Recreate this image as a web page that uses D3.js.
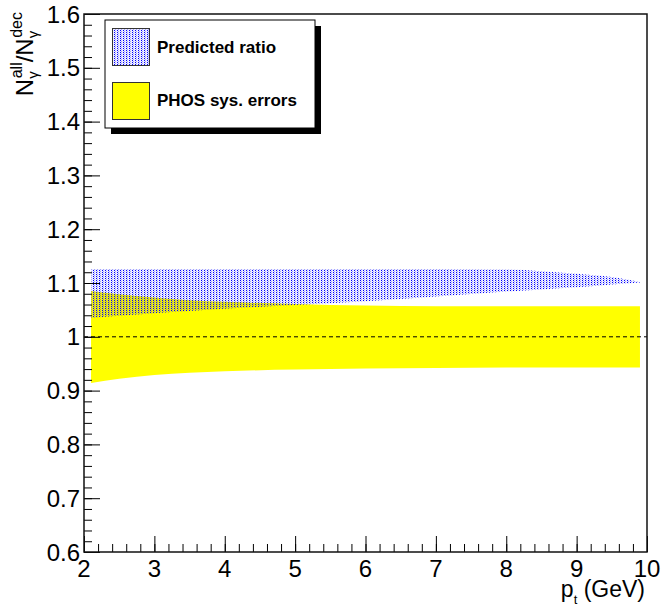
<!DOCTYPE html>
<html><head><meta charset="utf-8">
<script src="https://cdn.jsdelivr.net/npm/d3@7"></script>
<style>html,body{margin:0;padding:0;background:#fff;}svg{display:block;font-family:"Liberation Sans",Arial,sans-serif;}</style>
</head><body>
<script>
// Data
const pt = [2.1, 2.5, 3, 3.5, 4, 5, 6, 7, 8, 8.5, 9, 9.5, 9.9];
const predUpper = [1.126,1.126,1.126,1.126,1.126,1.126,1.126,1.126,1.125,1.122,1.117,1.111,1.102];
const predLower = [1.035,1.039,1.044,1.048,1.052,1.059,1.066,1.075,1.084,1.088,1.092,1.097,1.101];
const sysUpper  = [1.085,1.079,1.073,1.068,1.065,1.061,1.058,1.057,1.057,1.057,1.057,1.057,1.057];
const sysLower  = [0.914,0.922,0.929,0.933,0.936,0.939,0.941,0.942,0.943,0.943,0.943,0.943,0.943];
const xTicks = [2,3,4,5,6,7,8,9,10];
const yTicks = [0.6,0.7,0.8,0.9,1,1.1,1.2,1.3,1.4,1.5,1.6];
const yTickLabels = ["0.6","0.7","0.8","0.9","1","1.1","1.2","1.3","1.4","1.5","1.6"];
const legendLabels = ["Predicted ratio","PHOS sys. errors"];

const W = 662, H = 610;
const L = 84, R = 647, T = 14, B = 552;
const svg = d3.select("body").append("svg").attr("width", W).attr("height", H);

const defs = svg.append("defs");
const pat = defs.append("pattern").attr("id","dots").attr("patternUnits","userSpaceOnUse")
  .attr("width",3).attr("height",2);
pat.append("rect").attr("x",0).attr("y",0).attr("width",3).attr("height",2).attr("fill","#0000ff").attr("fill-opacity",0.07);
pat.append("rect").attr("x",0).attr("y",0).attr("width",1).attr("height",1).attr("fill","#0000ff");
pat.append("rect").attr("x",1).attr("y",1).attr("width",1).attr("height",1).attr("fill","#0000ff").attr("fill-opacity",0.3);

const x = d3.scaleLinear().domain([2,10]).range([L,R]);
const y = d3.scaleLinear().domain([0.6,1.6]).range([B,T]);

const band = (up, lo) => d3.area().x((d,i)=>x(pt[i])).y0((d,i)=>y(lo[i])).y1((d,i)=>y(up[i])).curve(d3.curveMonotoneX)(pt);

// Yellow systematic band
svg.append("path").attr("d", band(sysUpper, sysLower)).attr("fill","#ffff00");
// Predicted ratio band (dotted blue), drawn over the yellow band
svg.append("path").attr("d", band(predUpper, predLower)).attr("fill","url(#dots)");

// dashed line at 1
svg.append("line").attr("x1",L).attr("x2",R).attr("y1",y(1)).attr("y2",y(1))
  .attr("stroke","#000").attr("stroke-width",1).attr("stroke-dasharray","4,3");

// X axis ticks (inside)
const xMinor = d3.range(2, 10.001, 0.2);
const gx = svg.append("g").attr("transform",`translate(0,${B})`)
  .call(d3.axisBottom(x).tickValues(xMinor).tickSize(-8).tickFormat(""));
gx.select(".domain").remove();
const gx2 = svg.append("g").attr("transform",`translate(0,${B})`)
  .call(d3.axisBottom(x).tickValues(xTicks).tickSize(-16).tickFormat(""));
gx2.select(".domain").remove();

// Y axis ticks (inside)
const yMinor = d3.range(0.6, 1.6001, 0.02);
const gy = svg.append("g").attr("transform",`translate(${L},0)`)
  .call(d3.axisLeft(y).tickValues(yMinor).tickSize(-8).tickFormat(""));
gy.select(".domain").remove();
const gy2 = svg.append("g").attr("transform",`translate(${L},0)`)
  .call(d3.axisLeft(y).tickValues(yTicks).tickSize(-16).tickFormat(""));
gy2.select(".domain").remove();
svg.selectAll(".tick line").attr("stroke","#000");

// Frame
svg.append("rect").attr("x",L).attr("y",T).attr("width",R-L).attr("height",B-T)
  .attr("fill","none").attr("stroke","#111").attr("stroke-width",1.5);

// Tick labels
svg.append("g").selectAll("text").data(xTicks).join("text")
  .attr("x", d=>x(d)).attr("y", 577).attr("text-anchor","middle")
  .attr("font-size",24).attr("fill","#000").text(d=>d);
svg.append("g").selectAll("text").data(yTicks).join("text")
  .attr("x", 80).attr("y", d=>y(d)+8.5).attr("text-anchor","end")
  .attr("font-size",24).attr("fill","#000").text((d,i)=>yTickLabels[i]);

// X title
const xt = svg.append("text").attr("x",645).attr("y",597).attr("text-anchor","end")
  .attr("font-size",23).attr("fill","#000");
xt.append("tspan").text("p");
xt.append("tspan").attr("font-size",13).attr("dy",7).text("t");
xt.append("tspan").attr("dy",-7).text(" (GeV)");

// Y title
const yt = svg.append("text").attr("transform","translate(33,12) rotate(-90)")
  .attr("text-anchor","end").attr("font-size",24).attr("fill","#000");
yt.append("tspan").text("N");
yt.append("tspan").attr("font-size",15).attr("dy",5).text("γ");
yt.append("tspan").attr("font-size",16).attr("dx",-7).attr("dy",-16).text("all");
yt.append("tspan").attr("dy",11).text("/N");
yt.append("tspan").attr("font-size",15).attr("dy",5).text("γ");
yt.append("tspan").attr("font-size",16).attr("dx",-7).attr("dy",-16).text("dec");

// Legend
const lg = svg.append("g");
lg.append("rect").attr("x",111).attr("y",26).attr("width",210).attr("height",108).attr("fill","#000");
lg.append("rect").attr("x",105).attr("y",20).attr("width",210).attr("height",108)
  .attr("fill","#fff").attr("stroke","#000").attr("stroke-width",1);
lg.append("rect").attr("x",112.5).attr("y",28.5).attr("width",37).attr("height",37)
  .attr("fill","url(#dots)").attr("stroke","#333").attr("stroke-width",1);
lg.append("rect").attr("x",112.5).attr("y",82.5).attr("width",37).attr("height",37)
  .attr("fill","#ffff00").attr("stroke","#333").attr("stroke-width",1);
lg.selectAll("text.lbl").data(legendLabels).join("text").attr("class","lbl")
  .attr("x",157).attr("y",(d,i)=> i===0 ? 53 : 106).attr("font-size",17).attr("font-weight","bold")
  .attr("fill","#000").text(d=>d);
</script>
</body></html>
